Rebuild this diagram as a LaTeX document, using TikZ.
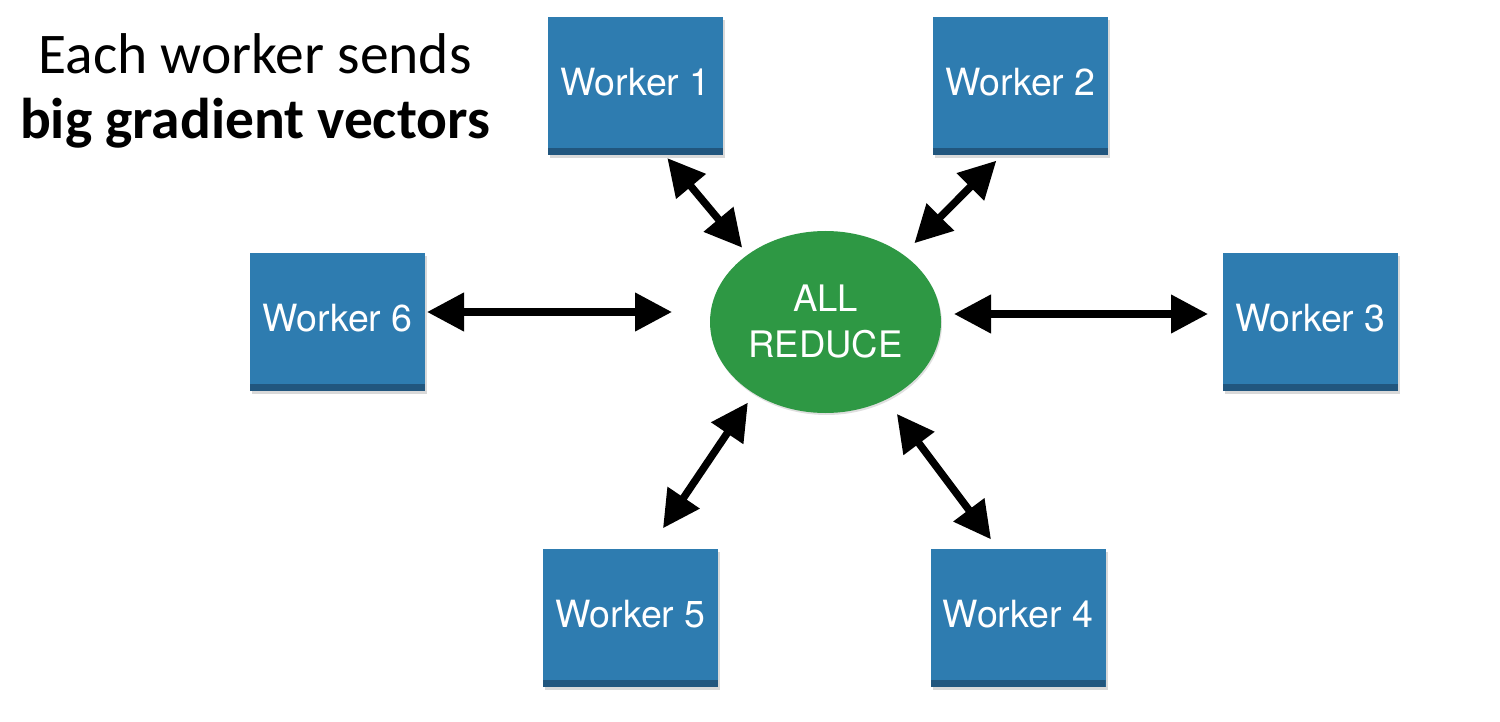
\documentclass[tikz,border=0pt]{standalone}
\usepackage{fontspec}
\setmainfont{Carlito}
\newfontfamily\heros{TeX Gyre Heros}
\usetikzlibrary{arrows.meta,shadows,shapes.geometric}

\definecolor{workerblue}{RGB}{46,124,176}
\definecolor{workerdark}{RGB}{33,86,126}
\definecolor{reducegreen}{RGB}{46,152,68}

\tikzset{
    worker/.style={rectangle, fill=workerblue, minimum width=175pt, minimum height=138pt,
        inner sep=0pt, outer sep=0pt, text=white, font=\heros\fontsize{37.5}{45}\selectfont,
        text height=27pt, text depth=8pt,
        drop shadow={shadow xshift=2pt, shadow yshift=-3pt, opacity=0.3},
        path picture={\fill[workerdark] (path picture bounding box.south west)
            rectangle ([yshift=7pt]path picture bounding box.south east);}},
    reducer/.style={ellipse, fill=reducegreen, minimum width=231pt, minimum height=182pt,
        inner sep=0pt, outer sep=0pt, text=white, align=center,
        font=\heros\fontsize{36.5}{46}\selectfont,
        drop shadow={shadow xshift=1pt, shadow yshift=-2pt, opacity=0.25}},
    link/.style={{Triangle[length=37pt,width=37pt]}-{Triangle[length=37pt,width=37pt]},
        line width=7.5pt, black},
    caption/.style={anchor=base, font=\fontsize{57.5}{69}\selectfont}
}

\begin{document}
\begin{tikzpicture}[x=1pt, y=-1pt]
    \useasboundingbox (0,0) rectangle (1500,722);

    % Heading
    \node[caption] (cap1) at (255,74) {Each worker sends};
    \node[caption] (cap2) at (255,139) {\textbf{big gradient vectors}};

    % Reducer and workers
    \node[reducer] (ar) at (825.5,322) {ALL\\REDUCE};
    \node[worker] (w1) at (635.5,86) {Worker 1};
    \node[worker] (w2) at (1020.5,86) {Worker 2};
    \node[worker] (w3) at (1310.5,322) {Worker 3};
    \node[worker] (w4) at (1018,618) {Worker 4};
    \node[worker] (w5) at (630.5,618) {Worker 5};
    \node[worker] (w6) at (337.5,322) {Worker 6};

    % Links
    \draw[link, shorten <=4pt, shorten >=9pt] (w1.-67.2) -- (ar.139.2);
    \draw[link, shorten <=8pt, shorten >=16pt] (w2.-105) -- (ar.41.1);
    \draw[link, shorten <=13pt, shorten >=15pt] ([yshift=8pt]w3.west -| ar.east) -- ([yshift=8pt]w3.west);
    \draw[link, shorten <=12pt, shorten >=18pt] (w4.106.7) -- (ar.-52.1);
    \draw[link, shorten <=25pt, shorten >=11pt] (w5.75.4) -- (ar.-135.5);
    \draw[link, shorten <=2pt, shorten >=38pt] ([yshift=10pt]w6.east) -- ([yshift=10pt]w6.east -| ar.west);
\end{tikzpicture}
\end{document}
